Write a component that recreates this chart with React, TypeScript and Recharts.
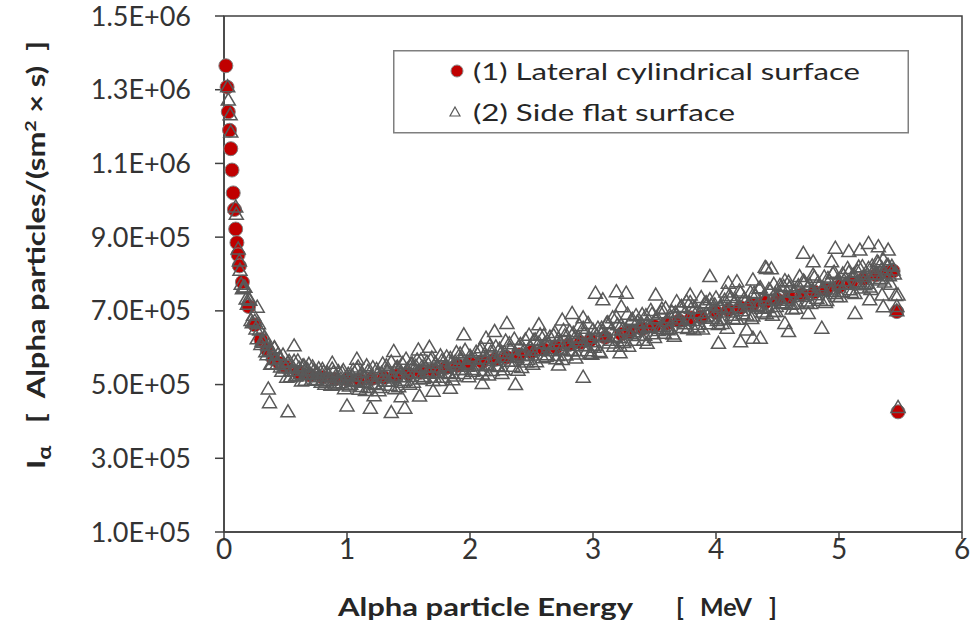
import React from 'react';
import { ScatterChart, Scatter, XAxis, YAxis, Legend, ReferenceArea } from 'recharts';

// Energy [MeV], intensity [thousand alpha particles/(sm^2 x s)]
const lateralCylindricalK: [number, number][] = [
  [0.015, 1365], [0.025, 1307], [0.035, 1240], [0.045, 1190], [0.055, 1140], [0.065, 1082],
  [0.075, 1020], [0.085, 975], [0.095, 922], [0.105, 885], [0.115, 852], [0.125, 822],
  [0.15, 778], [0.2, 712], [0.25, 662], [0.3, 622], [0.35, 595], [0.4, 570], [0.45, 558],
  [0.5, 548], [0.6, 533], [0.7, 525], [0.8, 520], [0.9, 515], [1.0, 514], [1.1, 513],
  [1.2, 516], [1.3, 519], [1.4, 524], [1.5, 529], [1.6, 533], [1.7, 539], [1.8, 545],
  [1.9, 552], [2.0, 557], [2.1, 562], [2.2, 568], [2.3, 574], [2.4, 581], [2.5, 588],
  [2.6, 595], [2.7, 601], [2.8, 608], [2.9, 614], [2.98, 621], [3.1, 628], [3.23, 637],
  [3.3, 643], [3.4, 651], [3.5, 658], [3.6, 666], [3.7, 673], [3.8, 681], [3.88, 683],
  [4.0, 695], [4.1, 702], [4.2, 709], [4.3, 716], [4.4, 723], [4.5, 730], [4.6, 737],
  [4.7, 744], [4.8, 751], [4.9, 758], [5.0, 766], [5.1, 776], [5.2, 787], [5.3, 797],
  [5.4, 805], [5.44, 808], [5.47, 698], [5.48, 426],
];

const sideFlatK: [number, number][] = [
  [0.03, 1308], [0.035, 1272], [0.05, 1232], [0.055, 1185], [0.095, 982], [0.1, 962],
  [0.115, 868], [0.125, 835],
  [0.13, 810], [0.14, 772], [0.15, 760], [0.16, 765], [0.17, 764], [0.18, 732], [0.19, 718],
  [0.2, 732], [0.21, 729], [0.22, 674], [0.23, 668], [0.24, 688], [0.25, 672], [0.26, 651],
  [0.27, 624], [0.27, 710], [0.28, 665], [0.29, 648], [0.3, 609], [0.31, 618], [0.32, 615],
  [0.33, 629], [0.34, 589], [0.35, 581], [0.36, 606], [0.36, 488], [0.37, 593], [0.37, 451],
  [0.38, 555], [0.39, 556], [0.4, 581], [0.41, 599], [0.41, 600], [0.42, 568], [0.43, 555],
  [0.44, 582], [0.45, 572], [0.46, 548], [0.47, 536], [0.48, 580], [0.49, 554], [0.5, 545],
  [0.51, 520], [0.52, 560], [0.52, 426], [0.53, 563], [0.54, 521], [0.55, 538], [0.56, 545],
  [0.57, 563], [0.57, 605], [0.58, 523], [0.59, 524], [0.6, 564], [0.61, 545], [0.62, 529],
  [0.63, 510], [0.64, 550], [0.65, 551], [0.66, 512], [0.67, 529], [0.68, 540], [0.69, 555],
  [0.7, 527], [0.71, 512], [0.72, 548], [0.73, 537], [0.74, 512], [0.75, 514], [0.76, 531],
  [0.77, 543], [0.78, 521], [0.79, 506], [0.8, 541], [0.81, 534], [0.82, 501], [0.83, 510],
  [0.84, 532], [0.85, 525], [0.86, 512], [0.87, 498], [0.88, 542], [0.88, 558], [0.89, 533],
  [0.9, 500], [0.91, 504], [0.92, 520], [0.93, 535], [0.94, 505], [0.95, 515], [0.96, 532],
  [0.97, 538], [0.98, 489], [0.99, 500], [1.0, 523], [1.0, 442],
  [1.01, 528], [1.02, 496], [1.03, 501], [1.04, 524], [1.05, 539], [1.06, 512], [1.07, 508],
  [1.08, 542], [1.08, 569], [1.09, 548], [1.1, 487], [1.11, 495], [1.12, 532], [1.13, 522],
  [1.14, 506], [1.15, 484], [1.16, 551], [1.17, 536], [1.18, 492], [1.19, 515], [1.19, 436],
  [1.2, 522], [1.21, 546], [1.22, 502], [1.22, 470], [1.23, 500], [1.24, 541], [1.25, 529],
  [1.26, 483], [1.27, 492], [1.28, 531], [1.29, 556], [1.3, 522], [1.31, 510], [1.32, 551],
  [1.33, 537], [1.34, 509], [1.35, 498], [1.36, 561], [1.36, 424], [1.37, 526], [1.38, 518],
  [1.38, 590], [1.39, 489], [1.4, 545], [1.41, 547], [1.42, 494], [1.43, 521], [1.44, 534],
  [1.44, 467], [1.45, 557], [1.46, 506], [1.47, 512], [1.47, 436], [1.48, 569], [1.49, 541],
  [1.5, 522], [1.51, 501], [1.52, 556], [1.53, 556], [1.54, 506], [1.55, 532], [1.56, 550],
  [1.57, 567], [1.58, 533], [1.58, 594], [1.59, 515], [1.59, 469], [1.6, 566], [1.61, 548],
  [1.62, 517], [1.63, 522], [1.64, 546], [1.65, 561], [1.66, 535], [1.67, 531], [1.67, 601],
  [1.68, 566], [1.69, 572], [1.7, 511], [1.7, 482], [1.71, 520], [1.72, 558], [1.73, 548],
  [1.74, 533], [1.75, 511], [1.76, 578], [1.77, 564], [1.78, 520], [1.79, 544], [1.8, 551],
  [1.81, 575], [1.82, 532], [1.83, 530], [1.84, 571], [1.84, 490], [1.85, 559], [1.86, 513],
  [1.87, 523], [1.88, 562], [1.89, 587], [1.9, 553], [1.91, 541], [1.92, 583], [1.93, 569],
  [1.94, 541], [1.95, 530], [1.95, 635], [1.96, 593], [1.97, 558], [1.98, 550], [1.99, 521],
  [2.0, 577],
  [2.01, 572], [2.02, 536], [2.03, 541], [2.04, 569], [2.05, 588], [2.06, 556], [2.07, 551],
  [2.08, 592], [2.09, 600], [2.1, 529], [2.1, 503], [2.11, 538], [2.12, 582], [2.13, 571],
  [2.13, 626], [2.14, 553], [2.15, 526], [2.16, 605], [2.17, 589], [2.18, 538], [2.19, 565],
  [2.2, 573], [2.2, 644], [2.21, 602], [2.22, 551], [2.23, 549], [2.24, 596], [2.25, 584],
  [2.26, 530], [2.27, 540], [2.28, 587], [2.29, 618], [2.3, 576], [2.3, 666], [2.31, 563],
  [2.32, 611], [2.33, 596], [2.34, 563], [2.35, 550], [2.36, 623], [2.37, 583], [2.37, 500],
  [2.38, 574], [2.39, 539], [2.4, 605], [2.41, 609], [2.42, 546], [2.43, 578], [2.44, 593],
  [2.45, 621], [2.46, 561], [2.47, 568], [2.48, 634], [2.49, 602], [2.5, 580], [2.51, 555],
  [2.52, 620], [2.53, 621], [2.54, 562], [2.55, 593], [2.56, 613], [2.56, 662], [2.57, 635],
  [2.58, 594], [2.59, 573], [2.6, 633], [2.61, 612], [2.62, 576], [2.63, 581], [2.64, 609],
  [2.65, 629], [2.66, 597], [2.67, 592], [2.68, 633], [2.69, 641], [2.7, 570], [2.71, 579],
  [2.72, 623], [2.72, 553], [2.73, 613], [2.74, 595], [2.75, 568], [2.75, 675], [2.76, 647],
  [2.77, 632], [2.78, 580], [2.79, 607], [2.8, 615], [2.81, 644], [2.82, 593], [2.83, 591],
  [2.83, 693], [2.84, 639], [2.85, 626], [2.86, 572], [2.87, 583], [2.88, 629], [2.89, 660],
  [2.9, 619], [2.91, 605], [2.92, 653], [2.92, 681], [2.92, 520], [2.93, 639], [2.94, 606],
  [2.95, 592], [2.96, 666], [2.97, 626], [2.98, 616], [2.98, 585], [2.99, 582], [3.0, 648],
  [3.01, 601], [3.02, 607], [3.02, 748], [3.03, 634], [3.04, 653], [3.05, 590], [3.06, 586],
  [3.07, 653], [3.08, 644], [3.08, 730], [3.09, 629], [3.1, 633], [3.11, 666], [3.12, 668],
  [3.13, 613], [3.14, 620], [3.15, 648], [3.16, 681], [3.17, 604], [3.18, 631], [3.19, 682],
  [3.19, 752], [3.2, 662], [3.21, 627], [3.22, 604], [3.22, 586], [3.23, 661], [3.23, 711],
  [3.24, 650], [3.25, 614], [3.26, 619], [3.27, 648], [3.27, 748], [3.28, 691], [3.29, 604],
  [3.3, 638], [3.31, 674], [3.32, 677], [3.33, 643], [3.34, 620], [3.35, 687], [3.36, 670],
  [3.37, 633], [3.38, 652], [3.39, 668], [3.4, 690], [3.41, 620], [3.42, 634], [3.43, 687],
  [3.44, 667], [3.44, 612], [3.45, 658], [3.46, 655], [3.47, 701], [3.48, 691], [3.49, 638],
  [3.5, 628], [3.51, 678], [3.51, 743], [3.52, 681], [3.53, 647], [3.54, 653], [3.55, 695],
  [3.56, 705], [3.57, 658], [3.58, 639], [3.59, 707], [3.6, 673], [3.61, 649], [3.62, 652],
  [3.63, 682], [3.64, 697], [3.65, 637], [3.66, 631], [3.67, 695], [3.68, 688], [3.68, 725],
  [3.69, 671], [3.7, 678], [3.71, 709], [3.72, 712], [3.73, 655], [3.74, 665], [3.75, 695],
  [3.76, 725], [3.77, 652], [3.78, 676], [3.79, 723], [3.79, 743], [3.8, 707], [3.81, 674],
  [3.82, 649], [3.83, 708], [3.84, 695], [3.85, 656], [3.86, 664], [3.87, 695], [3.88, 736],
  [3.89, 651], [3.9, 683], [3.91, 721], [3.92, 722], [3.93, 686], [3.94, 665], [3.95, 730],
  [3.95, 793], [3.96, 715], [3.97, 680], [3.98, 697], [3.99, 716], [4.0, 735],
  [4.01, 674], [4.02, 663], [4.02, 612], [4.03, 710], [4.04, 710], [4.05, 666], [4.06, 678],
  [4.07, 729], [4.08, 751], [4.09, 705], [4.09, 653], [4.1, 697], [4.1, 775], [4.11, 742],
  [4.12, 736], [4.13, 688], [4.14, 679], [4.15, 723], [4.16, 729], [4.17, 677], [4.17, 779],
  [4.18, 711], [4.19, 754], [4.2, 749], [4.2, 616], [4.21, 700], [4.22, 692], [4.23, 733],
  [4.24, 726], [4.25, 689], [4.25, 648], [4.26, 713], [4.27, 722], [4.28, 750], [4.29, 679],
  [4.3, 686], [4.3, 784], [4.3, 626], [4.31, 748], [4.32, 739], [4.33, 715], [4.34, 711],
  [4.35, 761], [4.36, 763], [4.36, 626], [4.37, 707], [4.38, 697], [4.39, 740], [4.4, 731],
  [4.4, 818], [4.41, 692], [4.41, 815], [4.42, 709], [4.43, 758], [4.44, 755], [4.45, 730],
  [4.45, 814], [4.46, 688], [4.47, 772], [4.47, 698], [4.48, 746], [4.49, 712], [4.49, 698],
  [4.5, 735], [4.51, 751], [4.52, 769], [4.53, 720], [4.54, 722], [4.55, 766], [4.56, 782],
  [4.56, 666], [4.57, 729], [4.58, 733], [4.59, 778], [4.59, 644], [4.6, 764], [4.61, 718],
  [4.62, 705], [4.63, 751], [4.64, 752], [4.65, 707], [4.66, 720], [4.67, 768], [4.68, 793],
  [4.69, 744], [4.7, 739], [4.71, 781], [4.71, 856], [4.72, 778], [4.73, 727], [4.74, 721],
  [4.75, 763], [4.75, 693], [4.76, 771], [4.77, 720], [4.78, 753], [4.79, 797], [4.79, 833],
  [4.8, 791], [4.81, 744], [4.82, 734], [4.83, 777], [4.84, 768], [4.85, 729], [4.86, 755],
  [4.86, 653], [4.87, 762], [4.88, 792], [4.89, 723], [4.9, 728], [4.91, 788], [4.92, 781],
  [4.93, 759], [4.94, 753], [4.94, 833], [4.95, 801], [4.96, 805], [4.97, 747], [4.97, 870],
  [4.98, 739], [4.99, 783], [5.0, 773],
  [5.01, 738], [5.02, 752], [5.03, 800], [5.04, 782], [5.05, 772], [5.06, 772], [5.07, 815],
  [5.08, 804], [5.08, 861], [5.09, 757], [5.1, 750], [5.11, 795], [5.12, 797], [5.13, 747],
  [5.13, 693], [5.14, 773], [5.15, 807], [5.16, 819], [5.17, 779], [5.17, 865], [5.18, 762],
  [5.19, 820], [5.2, 793], [5.21, 771], [5.22, 775], [5.23, 799], [5.24, 815], [5.24, 883],
  [5.25, 765], [5.25, 730], [5.26, 758], [5.27, 822], [5.28, 808], [5.29, 798], [5.3, 800],
  [5.31, 833], [5.32, 830], [5.32, 874], [5.33, 784], [5.34, 788], [5.35, 814], [5.35, 743],
  [5.36, 839], [5.36, 711], [5.37, 778], [5.38, 796], [5.39, 824], [5.4, 823], [5.4, 865],
  [5.41, 795], [5.42, 772], [5.43, 821], [5.44, 811], [5.45, 800], [5.46, 742], [5.47, 712],
  [5.47, 700], [5.48, 743], [5.48, 438],
];

const xTicks = [0, 1, 2, 3, 4, 5, 6];
const yTicks = [100000, 300000, 500000, 700000, 900000, 1100000, 1300000, 1500000];
const yTickLabels = ['1.0E+05', '3.0E+05', '5.0E+05', '7.0E+05', '9.0E+05', '1.1E+06', '1.3E+06', '1.5E+06'];

const seriesNames = ['(1) Lateral cylindrical surface', '(2) Side flat surface'];

const lateralData = lateralCylindricalK.map(([e, i]) => ({ x: e, y: i * 1000 }));
const sideData = sideFlatK.map(([e, i]) => ({ x: e, y: i * 1000 }));

const FONT = 'Lato, "Open Sans", sans-serif';
const RED = '#C00000';
const TRI_STROKE = '#595959';
const AXIS = '#404040';
const TEXT = '#262626';

const CircleMarker = (p: any) => (
  <circle cx={p.cx} cy={p.cy} r={7} fill={RED} stroke="#7F7F7F" strokeWidth={1} />
);

const TriangleMarker = (p: any) => {
  const { cx, cy } = p;
  return (
    <path
      d={`M${cx},${cy - 7} L${cx + 7},${cy + 5} L${cx - 7},${cy + 5} Z`}
      fill="none"
      stroke={TRI_STROKE}
      strokeWidth={1.5}
    />
  );
};

const XTitle = (props: any) => {
  const vb = props.viewBox || { x: 224, y: 532 };
  const x0 = vb.x;
  const y0 = vb.y + 84;
  const common = { fontFamily: FONT, fontWeight: 'bold' as const, fontSize: 25, fill: TEXT };
  return (
    <g>
      <text x={x0 + 114} y={y0} {...common} textLength={295} lengthAdjust="spacingAndGlyphs">Alpha particle Energy</text>
      <text x={x0 + 452} y={y0} {...common}>[</text>
      <text x={x0 + 476} y={y0} {...common} textLength={52} lengthAdjust="spacingAndGlyphs">MeV</text>
      <text x={x0 + 545} y={y0} {...common}>]</text>
    </g>
  );
};

const YTitle = () => (
  <text
    transform="translate(45,255) rotate(-90)"
    textAnchor="middle"
    fontFamily={FONT}
    fontWeight="bold"
    fontSize={25}
    fill={TEXT}
    textLength={428}
    lengthAdjust="spacingAndGlyphs"
    style={{ whiteSpace: 'pre' }}
  >
    <tspan>I</tspan>
    <tspan dy={6} fontSize={19}>α</tspan>
    <tspan dy={-6}>{'   [  Alpha particles/(sm'}</tspan>
    <tspan dy={-9} fontSize={16}>2</tspan>
    <tspan dy={9}>{' × s)  ]'}</tspan>
  </text>
);

const LegendBox = () => (
  <svg width={516} height={84} style={{ display: 'block' }}>
    <rect x={0.75} y={0.75} width={514.5} height={82} fill="#ffffff" stroke="#7F7F7F" strokeWidth={1.5} />
    <circle cx={64} cy={21} r={6} fill={RED} stroke="#8a8a8a" strokeWidth={1} />
    <text x={80} y={29.5} fontFamily={FONT} fontSize={24} fill={TEXT} textLength={387} lengthAdjust="spacingAndGlyphs">{seriesNames[0]}</text>
    <path d="M62,57 L67,66 L57,66 Z" fill="none" stroke={TRI_STROKE} strokeWidth={1.2} />
    <text x={80} y={71} fontFamily={FONT} fontSize={24} fill={TEXT} textLength={262} lengthAdjust="spacingAndGlyphs">{seriesNames[1]}</text>
  </svg>
);

export default function App() {
  return (
    <div style={{ position: 'absolute', left: 0, top: 0, width: 972, height: 630, background: '#fff' }}>
      <ScatterChart width={972} height={630} margin={{ top: 16, right: 10, bottom: 0, left: 0 }}>
        <XAxis
          type="number"
          dataKey="x"
          domain={[0, 6]}
          ticks={xTicks}
          interval={0}
          height={98}
          tickSize={7}
          tickMargin={0}
          axisLine={{ stroke: AXIS, strokeWidth: 1.5 }}
          tickLine={{ stroke: AXIS, strokeWidth: 1.5 }}
          tick={{ fill: '#333', fontSize: 28, fontFamily: FONT }}
          label={<XTitle />}
        />
        <YAxis
          type="number"
          dataKey="y"
          domain={[100000, 1500000]}
          ticks={yTicks}
          interval={0}
          width={224}
          tickSize={9}
          tickMargin={24}
          tickFormatter={(v: number) => yTickLabels[yTicks.indexOf(v)] ?? String(v)}
          axisLine={{ stroke: AXIS, strokeWidth: 1.5 }}
          tickLine={{ stroke: AXIS, strokeWidth: 1.5 }}
          tick={{ fill: '#333', fontSize: 27, fontFamily: FONT }}
          label={<YTitle />}
        />
        <ReferenceArea x1={0} x2={6} y1={100000} y2={1500000} fill="none" fillOpacity={0} stroke={AXIS} strokeWidth={1.5} />
        <Legend
          layout="vertical"
          verticalAlign="middle"
          align="center"
          wrapperStyle={{ left: 393, top: 50, width: 516, height: 84 }}
          content={() => <LegendBox />}
        />
        <Scatter name={seriesNames[0]} data={lateralData} shape={CircleMarker} isAnimationActive={false} />
        <Scatter name={seriesNames[1]} data={sideData} shape={TriangleMarker} isAnimationActive={false} />
      </ScatterChart>
    </div>
  );
}
